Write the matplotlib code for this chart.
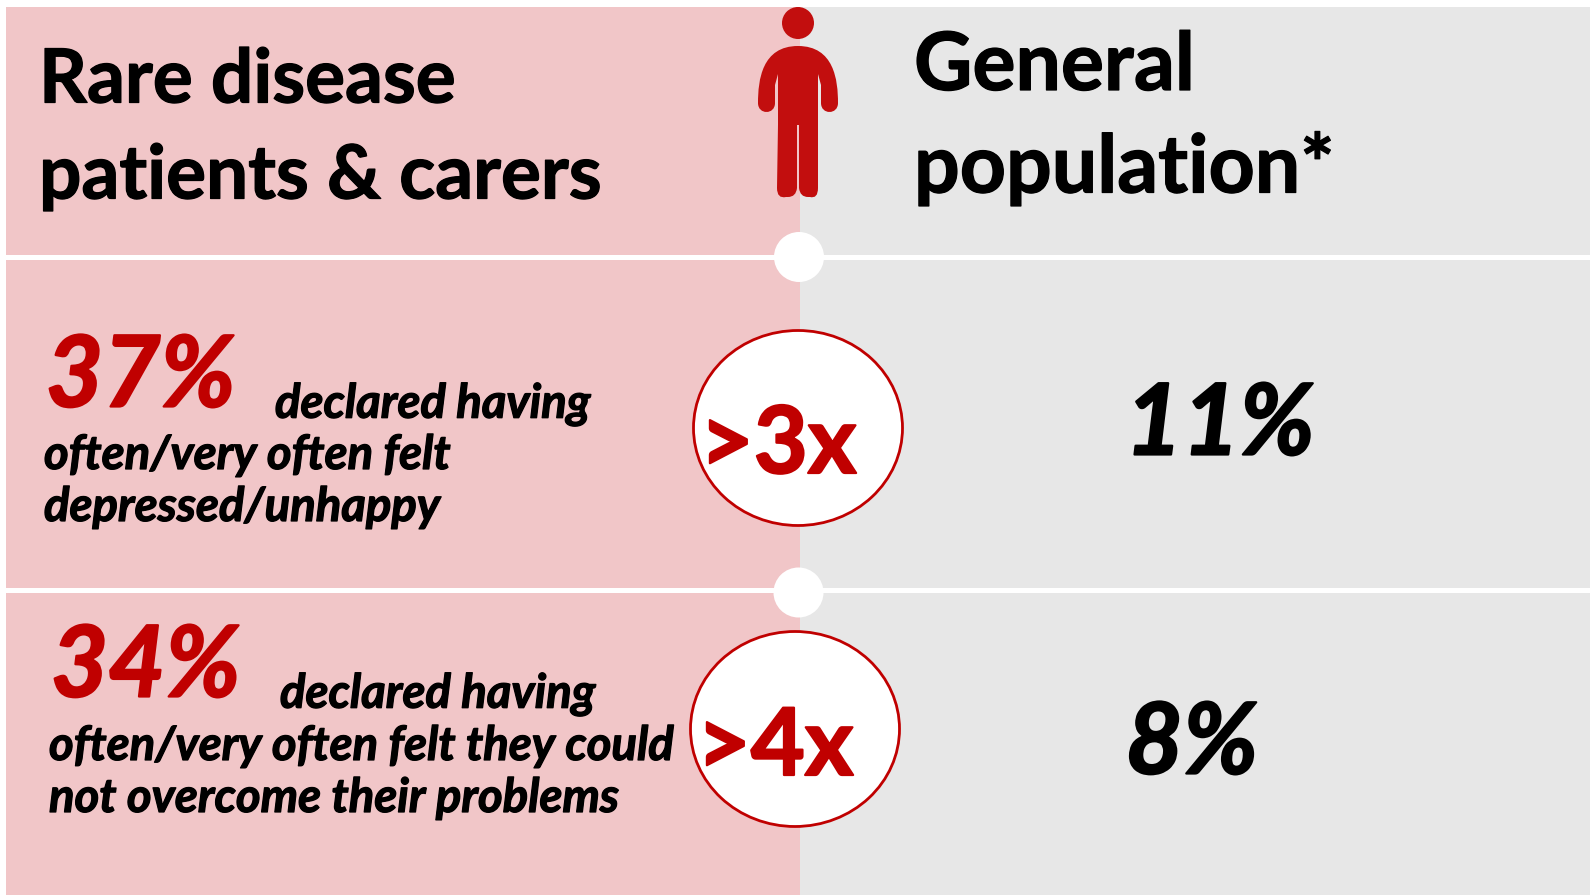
import matplotlib
matplotlib.use('Agg')
import matplotlib.pyplot as plt
import matplotlib.patheffects as pe
from matplotlib.patches import Rectangle, Ellipse, Circle, PathPatch
from matplotlib.path import Path

plt.rcParams['font.family'] = ['Lato', 'DejaVu Sans']

left_title = ['Rare disease', 'patients & carers']
right_title = ['General', 'population*']
rare_pct = ['37%', '34%']
general_pct = ['11%', '8%']
ratios = ['>3x', '>4x']
desc_first = ['declared having', 'declared having']
desc_rest = [['often/very often felt', 'depressed/unhappy'],
             ['often/very often felt they could', 'not overcome their problems']]

PINK = '#f1c6c8'
GREY = '#e7e7e7'
RED = '#c00000'
ICON = '#c20e0e'

fig = plt.figure(figsize=(15.9, 8.96), dpi=100)
ax = fig.add_axes([0, 0, 1, 1])
ax.set_xlim(0, 1590)
ax.set_ylim(896, 0)
ax.axis('off')

# thin outline thickens the bold face a little
heavy = [pe.withStroke(linewidth=0.9, foreground='black')]
heavy_red = [pe.withStroke(linewidth=1.6, foreground=RED)]
heavy_big = [pe.withStroke(linewidth=1.6, foreground='black')]

# background panels and row separators
ax.add_patch(Rectangle((6, 7), 794, 888, fc=PINK, ec='none'))
ax.add_patch(Rectangle((800, 7), 790, 888, fc=GREY, ec='none'))
for y in [258, 590.5]:
    ax.add_patch(Rectangle((6, y - 2.5), 1584, 5, fc='white', ec='none'))
ax.add_patch(Circle((799, 257), 25, fc='white', ec='none'))
ax.add_patch(Circle((798.5, 592.5), 25, fc='white', ec='none'))

# person icon
ax.add_patch(Circle((798, 23), 16, fc=ICON, ec='none'))
verts = [(778, 125), (778, 74), (775, 85), (775, 103), (775, 115), (758, 115), (758, 103),
         (758, 80), (762, 46), (798, 46), (834, 46), (838, 80), (838, 103),
         (838, 115), (821, 115), (821, 103), (821, 85), (818, 74), (818, 125),
         (818, 188), (818, 199), (810, 197), (808, 197), (800, 197), (799, 188),
         (799, 125), (797, 125), (797, 188), (796, 197), (788, 197), (786, 197),
         (777, 199), (777, 188), (778, 125)]
codes = [Path.MOVETO, Path.LINETO, Path.LINETO, Path.LINETO, Path.CURVE4, Path.CURVE4, Path.CURVE4,
         Path.CURVE4, Path.CURVE4, Path.CURVE4, Path.CURVE4, Path.CURVE4, Path.CURVE4,
         Path.CURVE4, Path.CURVE4, Path.CURVE4, Path.LINETO, Path.LINETO, Path.LINETO,
         Path.LINETO, Path.CURVE3, Path.CURVE3, Path.LINETO, Path.CURVE3, Path.CURVE3,
         Path.LINETO, Path.LINETO, Path.LINETO, Path.CURVE3, Path.CURVE3, Path.LINETO,
         Path.CURVE3, Path.CURVE3, Path.CLOSEPOLY]
ax.add_patch(PathPatch(Path(verts, codes), fc=ICON, ec='none'))

# column headings
for txt, y in zip(left_title, [81, 177]):
    ax.text(39, y, txt, fontsize=53.8, fontweight='bold', va='center', ha='left', color='black', path_effects=heavy)
for txt, y in zip(right_title, [67, 169]):
    ax.text(914, y, txt, fontsize=58, fontweight='bold', va='center', ha='left', color='black', path_effects=heavy)

# rows
pct_xy = [(46, 378), (51, 668)]
first_xy = [(275, 404), (280, 694)]
rest_x = [44, 49]
rest_y = [[455, 507], [746, 798]]
general_xy = [(1220, 426), (1192, 745)]
oval_xy = [(798, 428), (795, 729)]
ratio_xy = [(778, 446), (775, 748)]

for i in range(2):
    ax.text(*pct_xy[i], rare_pct[i], fontsize=71, fontweight='bold', style='italic', color=RED, va='center', ha='left', path_effects=heavy_red)
    ax.text(*first_xy[i], desc_first[i], fontsize=34, fontweight='bold', style='italic', color='black', va='center', ha='left', path_effects=heavy)
    for txt, y in zip(desc_rest[i], rest_y[i]):
        ax.text(rest_x[i], y, txt, fontsize=34, fontweight='bold', style='italic', color='black', va='center', ha='left', path_effects=heavy)
    ax.text(*general_xy[i], general_pct[i], fontsize=71, fontweight='bold', style='italic', color='black', va='center', ha='center', path_effects=heavy_big)
    ax.add_patch(Ellipse(oval_xy[i], 209, 195, fc='white', ec=RED, lw=2))
    ax.text(*ratio_xy[i], ratios[i], fontsize=67, fontweight='bold', color=RED, va='center', ha='center', path_effects=heavy_red)

fig.savefig('out.png', dpi=100)
